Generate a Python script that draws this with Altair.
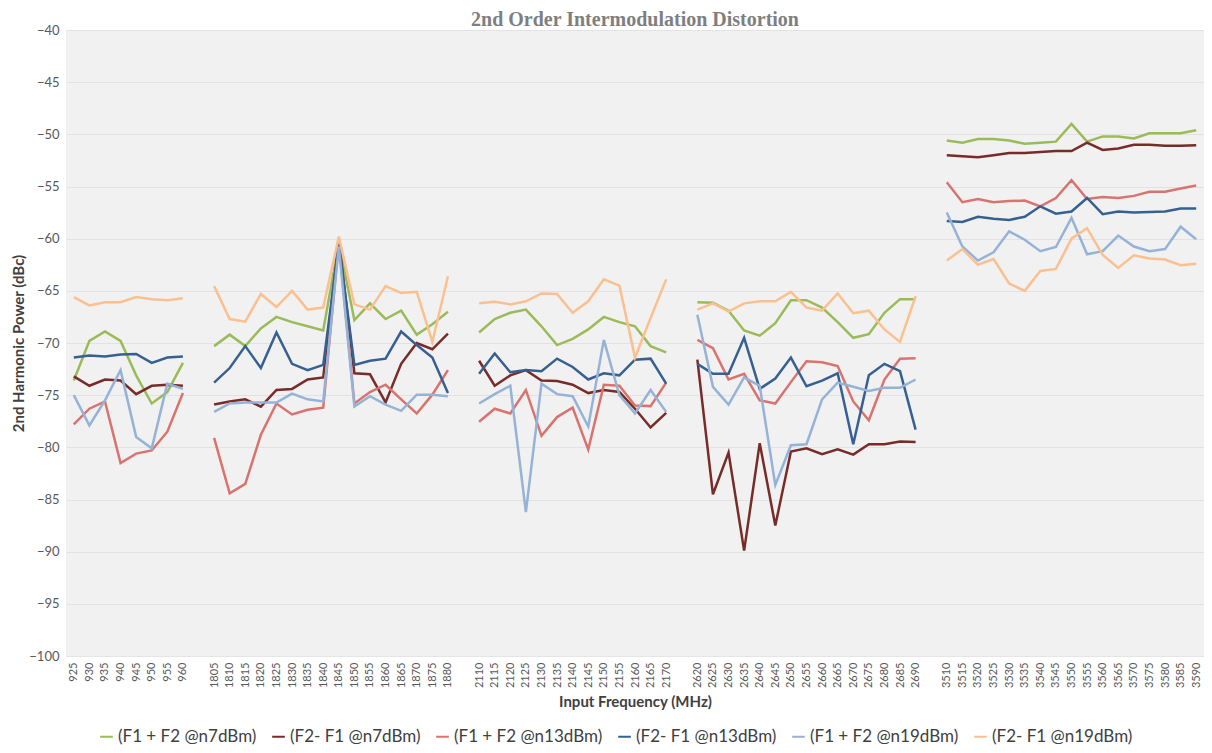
import altair as alt
import pandas as pd

# input frequencies (MHz), one list per band
band_900 = [925, 930, 935, 940, 945, 950, 955, 960]
band_1800 = [1805, 1810, 1815, 1820, 1825, 1830, 1835, 1840, 1845, 1850, 1855, 1860, 1865, 1870, 1875, 1880]
band_2100 = [2110, 2115, 2120, 2125, 2130, 2135, 2140, 2145, 2150, 2155, 2160, 2165, 2170]
band_2600 = [2620, 2625, 2630, 2635, 2640, 2645, 2650, 2655, 2660, 2665, 2670, 2675, 2680, 2685, 2690]
band_3500 = [3510, 3515, 3520, 3525, 3530, 3535, 3540, 3545, 3550, 3555, 3560, 3565, 3570, 3575, 3580, 3585, 3590]

series_names = ["(F1 + F2 @n7dBm)", "(F2- F1 @n7dBm)", "(F1 + F2 @n13dBm)",
                "(F2- F1 @n13dBm)", "(F1 + F2 @n19dBm)", "(F2- F1 @n19dBm)"]
series_colors = ["#9bbb59", "#772c2a", "#d9736f", "#376092", "#95b3d7", "#fac08f"]

y_ticks = [-100, -95, -90, -85, -80, -75, -70, -65, -60, -55, -50, -45, -40]

# 2nd harmonic power (dBc), bands in order 900 / 1800 / 2100 / 2600 / 3500
sum_n7 = [-73.6, -69.8, -68.9, -69.8, -73.1, -75.8, -74.7, -71.9,
          -70.3, -69.2, -70.3, -68.6, -67.5, -68.0, -68.4, -68.8, -60.4, -67.8, -66.2, -67.7, -66.9, -69.2, -68.2, -67.0,
          -69.0, -67.7, -67.1, -66.8, -68.4, -70.2, -69.6, -68.7, -67.5, -68.0, -68.4, -70.3, -70.9,
          -66.1, -66.15, -66.9, -68.8, -69.3, -68.1, -65.9, -65.9, -66.6, -68.0, -69.5, -69.15, -67.1, -65.8, -65.8,
          -50.6, -50.8, -50.45, -50.45, -50.6, -50.9, -50.8, -50.7, -49.0, -50.7, -50.2, -50.2, -50.4, -49.9, -49.9, -49.9, -49.6]
diff_n7 = [-73.2, -74.1, -73.5, -73.6, -74.9, -74.1, -74.0, -74.1,
           -75.9, -75.6, -75.4, -76.1, -74.5, -74.4, -73.5, -73.3, -60.1, -72.9, -73.0, -75.7, -72.0, -70.0, -70.6, -69.1,
           -71.7, -74.1, -73.1, -72.6, -73.6, -73.65, -74.0, -74.8, -74.5, -74.7, -76.3, -78.1, -76.7,
           -71.6, -84.5, -80.5, -89.9, -79.6, -87.5, -80.4, -80.1, -80.65, -80.2, -80.7, -79.7, -79.7, -79.45, -79.5,
           -52.0, -52.1, -52.2, -52.0, -51.8, -51.8, -51.7, -51.6, -51.6, -50.8, -51.5, -51.35, -51.0, -51.0, -51.1, -51.1, -51.05]
sum_n13 = [-77.8, -76.3, -75.6, -81.5, -80.6, -80.3, -78.5, -74.8,
           -79.1, -84.4, -83.5, -78.8, -75.8, -76.85, -76.4, -76.2, -60.3, -75.8, -74.7, -74.0, -75.4, -76.75, -74.95, -72.6,
           -77.55, -76.3, -76.75, -74.5, -78.9, -77.1, -76.2, -80.2, -74.0, -74.1, -76.0, -76.05, -73.8,
           -69.7, -70.5, -73.5, -72.95, -75.5, -75.8, -73.75, -71.75, -71.85, -72.2, -75.6, -77.4, -73.5, -71.5, -71.45,
           -54.6, -56.5, -56.2, -56.5, -56.4, -56.35, -56.9, -56.1, -54.4, -56.2, -56.0, -56.1, -55.9, -55.5, -55.5, -55.2, -54.9]
diff_n13 = [-71.4, -71.2, -71.3, -71.1, -71.05, -71.9, -71.4, -71.3,
            -73.8, -72.4, -70.3, -72.4, -69.0, -72.0, -72.6, -72.1, -60.6, -72.1, -71.7, -71.5, -68.9, -70.2, -71.4, -74.8,
            -72.95, -71.0, -72.8, -72.6, -72.7, -71.5, -72.3, -73.5, -72.9, -73.1, -71.6, -71.5, -73.9,
            -72.0, -72.95, -72.95, -69.5, -74.4, -73.4, -71.4, -74.15, -73.6, -72.9, -79.7, -73.1, -72.0, -72.7, -78.3,
            -58.3, -58.4, -57.9, -58.1, -58.2, -57.9, -56.9, -57.6, -57.4, -56.1, -57.65, -57.4, -57.5, -57.45, -57.4, -57.1, -57.1]
sum_n19 = [-75.0, -77.9, -75.5, -72.6, -79.0, -80.1, -73.9, -74.4,
           -76.6, -75.8, -75.7, -75.7, -75.7, -74.85, -75.4, -75.6, -60.75, -76.1, -75.1, -75.9, -76.5, -74.95, -74.95, -75.1,
           -75.8, -74.9, -74.1, -86.2, -73.9, -74.9, -75.1, -78.0, -69.7, -75.0, -76.75, -74.5, -76.6,
           -67.3, -74.2, -75.9, -73.3, -74.1, -83.6, -79.8, -79.7, -75.4, -73.8, -74.2, -74.6, -74.3, -74.3, -73.5,
           -57.5, -60.75, -62.1, -61.3, -59.3, -60.1, -61.2, -60.8, -58.0, -61.5, -61.2, -59.7, -60.75, -61.2, -61.0, -58.85, -60.05]
diff_n19 = [-65.6, -66.4, -66.1, -66.1, -65.6, -65.8, -65.9, -65.7,
            -64.55, -67.7, -67.95, -65.3, -66.55, -65.0, -66.8, -66.6, -59.8, -66.3, -66.8, -64.55, -65.2, -65.1, -69.9, -63.6,
            -66.2, -66.05, -66.3, -66.0, -65.25, -65.3, -67.1, -66.0, -63.9, -64.5, -71.4, -67.6, -63.9,
            -66.8, -66.2, -67.0, -66.2, -66.0, -66.0, -65.1, -66.6, -66.9, -65.25, -67.15, -66.9, -68.7, -69.9, -65.5,
            -62.1, -61.0, -62.5, -61.95, -64.3, -65.0, -63.1, -62.9, -60.0, -59.0, -61.55, -62.8, -61.6, -61.9, -62.0, -62.55, -62.4]

series_values = [sum_n7, diff_n7, sum_n13, diff_n13, sum_n19, diff_n19]
bands = [band_900, band_1800, band_2100, band_2600, band_3500]

# one blank category between bands, like the Excel sheet
gap_labels = [" ", "  ", "   ", "    "]
x_domain = []
for i, band in enumerate(bands):
    x_domain += [str(f) for f in band]
    if i < len(gap_labels):
        x_domain.append(gap_labels[i])

rows = []
for name, values in zip(series_names, series_values):
    k = 0
    for b, band in enumerate(bands):
        for f in band:
            rows.append({"freq": str(f), "band": b, "series": name, "power": values[k]})
            k += 1
df = pd.DataFrame(rows)

FONT = "Lato"

chart = alt.Chart(df).mark_line(strokeWidth=2.5).encode(
    x=alt.X("freq:N",
            scale=alt.Scale(domain=x_domain, type="point", padding=0.5),
            axis=alt.Axis(title="Input Frequency (MHz)", labelAngle=270, labelFontSize=11,
                          labelColor="#595959", labelFont=FONT, ticks=False, domain=False,
                          grid=False, labelPadding=6, labelOverlap=False,
                          titleFont=FONT, titleFontSize=15, titleFontWeight="bold",
                          titleColor="#404040", titlePadding=7)),
    y=alt.Y("power:Q",
            scale=alt.Scale(domain=[-100, -40], nice=False, zero=False),
            axis=alt.Axis(title="2nd Harmonic Power (dBc)", values=y_ticks, labelFontSize=13,
                          labelColor="#595959", labelFont=FONT, ticks=False, domain=False,
                          labelPadding=7, gridColor="#dedede", gridWidth=0.8,
                          titleFont=FONT, titleFontSize=15, titleFontWeight="bold",
                          titleColor="#404040", titlePadding=2)),
    color=alt.Color("series:N",
                    scale=alt.Scale(domain=series_names, range=series_colors),
                    legend=alt.Legend(title=None, orient="none", direction="horizontal",
                                      legendX=32, legendY=698, columns=6,
                                      symbolType="stroke", symbolSize=160, symbolStrokeWidth=2,
                                      labelFont=FONT, labelFontSize=17, labelColor="#404040",
                                      columnPadding=11, labelOffset=3)),
    detail="band:N",
).properties(
    width=1138,
    height=626,
    autosize=alt.AutoSizeParams(type="none"),
    padding={"left": 58, "top": 22, "right": 0, "bottom": 89},
    title=alt.TitleParams("2nd Order Intermodulation Distortion", font="Liberation Serif",
                          fontSize=20, fontWeight="bold", color="#7f7f7f", offset=-6),
).configure_view(
    fill="#f1f1f1",
    strokeWidth=0,
)

chart.save("out.html", embed_options={"renderer": "svg", "actions": False})
